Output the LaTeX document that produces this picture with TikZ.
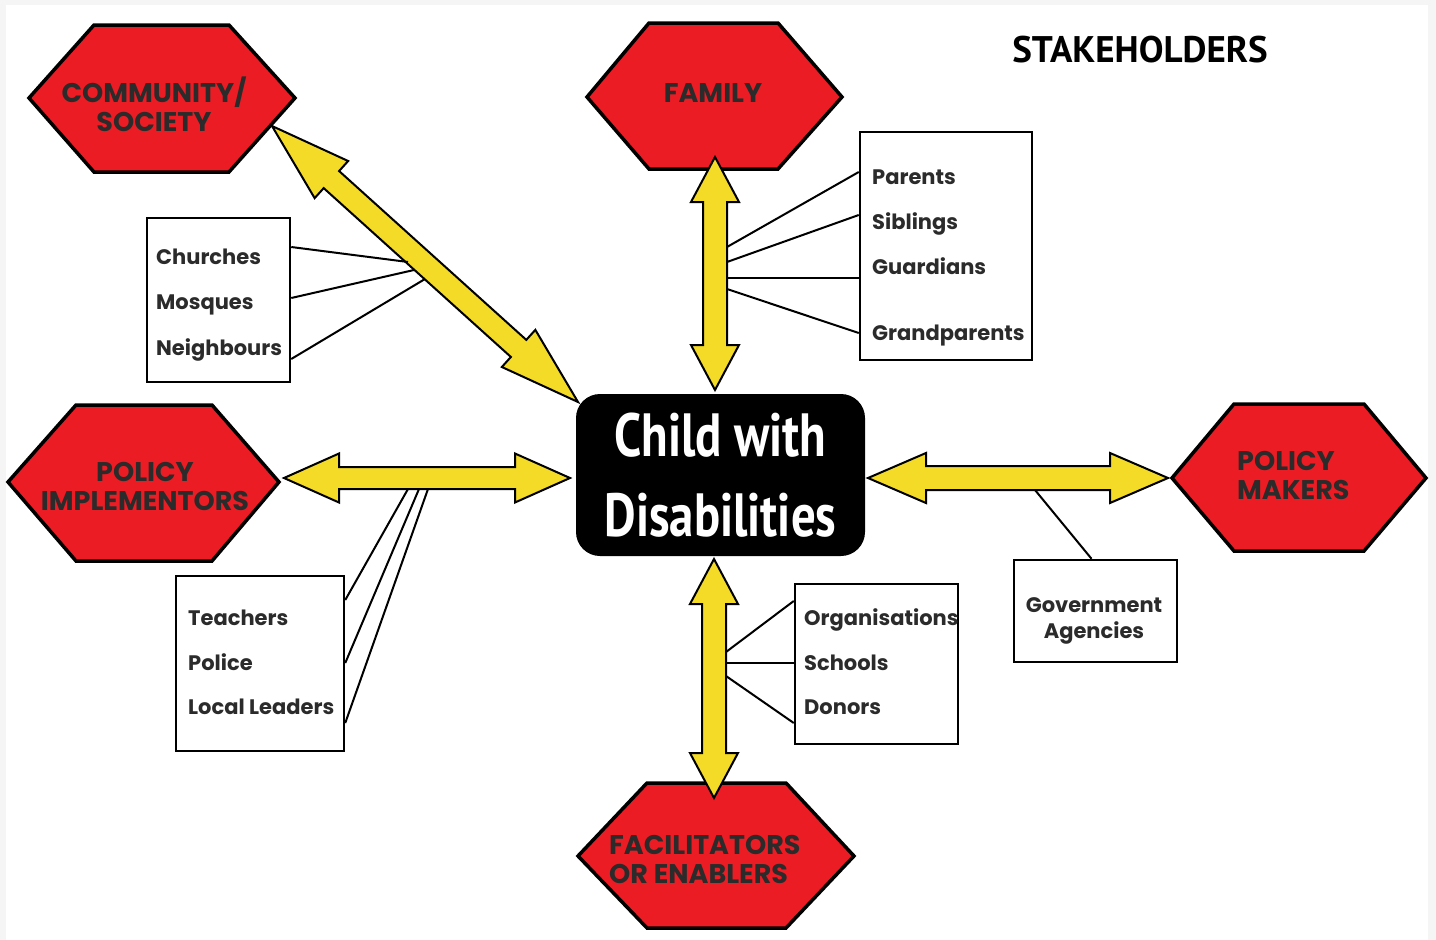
\documentclass[tikz,border=0pt]{standalone}
\usepackage{fontspec}
\setmainfont{Poppins}
\newfontfamily\comicfont{PT Sans}[FakeStretch=0.8]
\newfontfamily\titlefont{PT Sans}
\usepackage{tikz}
\usetikzlibrary{calc}
\definecolor{hexred}{HTML}{EC1C24}
\definecolor{arrowyellow}{HTML}{F4DB28}
\definecolor{labelgray}{HTML}{2B2B2B}
\definecolor{pagegray}{HTML}{F5F5F5}
\newcommand{\hexlabelfont}{\fontsize{27}{29}\selectfont\bfseries}
\newcommand{\itemfont}{\fontsize{21}{26}\selectfont\bfseries}
\tikzset{
  hexagon/.style={draw=black, line width=3.5pt, fill=hexred, line join=miter},
  hexlabel/.style={text=labelgray, font=\hexlabelfont, align=center, inner sep=0pt},
  itembox/.style={draw=black, line width=2.5pt, fill=white, inner sep=0pt},
  itemtext/.style={text=labelgray, font=\itemfont, anchor=base west, inner sep=0pt},
  link/.style={draw=black, line width=2pt},
  arrowbody/.style={draw=black, line width=2pt, fill=arrowyellow, line join=miter},
  childbox/.style={fill=black, rounded corners=24pt, text=white, align=center,
    font=\comicfont\bfseries\fontsize{61}{80}\selectfont, inner sep=0pt},
}
%% double headed block arrow between two tips
\newcommand\biarrow[5]{% tip, tip, shaft half, head half, head length
  \coordinate (ha) at ($(#1)!#5!(#2)$);
  \coordinate (hb) at ($(#2)!#5!(#1)$);
  \draw[arrowbody] (#1)
    -- ($(ha)!#4!90:(#2)$) -- ($(ha)!#3!90:(#2)$)
    -- ($(hb)!#3!-90:(#1)$) -- ($(hb)!#4!-90:(#1)$)
    -- (#2)
    -- ($(hb)!#4!90:(#1)$) -- ($(hb)!#3!90:(#1)$)
    -- ($(ha)!#3!-90:(#2)$) -- ($(ha)!#4!-90:(#2)$)
    -- cycle;
}
\begin{document}
\begin{tikzpicture}[x=1pt, y=-1pt]

  \useasboundingbox (0,0) rectangle (1436,940);
  \fill[pagegray] (0,0) rectangle (1436,940);
  \fill[white] (6,5) rectangle (1428,940);

  %% title
  \node[font=\titlefont\bfseries\fontsize{37}{40}\selectfont, inner sep=0pt]
    (title) at (1140,50) {STAKEHOLDERS};

  %% hexagons
  \draw[hexagon] (29,98) -- (94,25) -- (229,25) -- (295,98) -- (229,172) -- (94,172) -- cycle;
  \node[hexlabel] (community) at (154,104) {COMMUNITY/\\SOCIETY};

  \draw[hexagon] (587,97) -- (649,23) -- (778,23) -- (842,97) -- (778,169) -- (649,169) -- cycle;
  \node[hexlabel] (family) at (713,93) {FAMILY};

  \draw[hexagon] (8,482) -- (76,405) -- (212,405) -- (279,482) -- (212,561) -- (76,561) -- cycle;
  \node[hexlabel] (implementors) at (145,486) {POLICY\\IMPLEMENTORS};

  \draw[hexagon] (1172,478) -- (1234,404) -- (1364,404) -- (1426,478) -- (1364,551) -- (1234,551) -- cycle;
  \node[hexlabel, align=left, anchor=west] (makers) at (1237,475) {POLICY\\MAKERS};

  \draw[hexagon] (578,856) -- (647,783) -- (786,783) -- (854,856) -- (786,928) -- (647,928) -- cycle;
  \node[hexlabel, align=left, anchor=west] (enablers) at (609,859) {FACILITATORS\\OR ENABLERS};

  %% centre
  \node[childbox, minimum width=289pt, minimum height=162pt] (child) at (720.5,475)
    {Child with\\Disabilities};

  %% arrow tips
  \coordinate (comtip) at (272,126);  \coordinate (ccom) at (578,402);
  \coordinate (famtip) at (715,157);  \coordinate (cfam) at (715,390);
  \coordinate (imptip) at (284,478);  \coordinate (cimp) at (570,478);
  \coordinate (maktip) at (1168,478); \coordinate (cmak) at (868,478);
  \coordinate (enatip) at (714,798);  \coordinate (cena) at (714,559);

  \biarrow{comtip}{ccom}{11.5pt}{25pt}{80pt}
  \biarrow{famtip}{cfam}{12pt}{24pt}{45pt}
  \biarrow{imptip}{cimp}{11pt}{24.5pt}{55pt}
  \biarrow{cmak}{maktip}{12pt}{25pt}{58pt}
  \biarrow{cena}{enatip}{12pt}{24pt}{45pt}

  %% lists
  \node[itembox, minimum width=143pt, minimum height=164pt] (comlist) at (218.5,300) {};
  \node[itemtext] (churches) at (156,264) {Churches};
  \node[itemtext] (mosques) at (156,309) {Mosques};
  \node[itemtext] (neighbours) at (156,355) {Neighbours};

  \node[itembox, minimum width=172pt, minimum height=228pt] (famlist) at (946,246) {};
  \node[itemtext] (parents) at (872,184) {Parents};
  \node[itemtext] (siblings) at (872,229) {Siblings};
  \node[itemtext] (guardians) at (872,274) {Guardians};
  \node[itemtext] (grandparents) at (872,340) {Grandparents};

  \node[itembox, minimum width=168pt, minimum height=175pt] (implist) at (260,663.5) {};
  \node[itemtext] (teachers) at (188,625) {Teachers};
  \node[itemtext] (police) at (188,670) {Police};
  \node[itemtext] (leaders) at (188,714) {Local Leaders};

  \node[itembox, minimum width=163pt, minimum height=160pt] (enalist) at (876.5,664) {};
  \node[itemtext] (organisations) at (804,625) {Organisations};
  \node[itemtext] (schools) at (804,670) {Schools};
  \node[itemtext] (donors) at (804,714) {Donors};

  \node[itembox, minimum width=163pt, minimum height=102pt] (govlist) at (1095.5,611) {};
  \node[text=labelgray, font=\itemfont, align=center, inner sep=0pt] (agencies)
    at (1094,621) {Government\\Agencies};

  %% links
  \draw[link] ([yshift=17pt]churches.base -| comlist.east) -- (408,262);
  \draw[link] ([yshift=11pt]mosques.base -| comlist.east) -- (414,270);
  \draw[link] ([yshift=-4pt]neighbours.base -| comlist.east) -- (425,279);

  \draw[link] ([yshift=12pt]parents.base -| famlist.west) -- (727,247);
  \draw[link] ([yshift=14pt]siblings.base -| famlist.west) -- (727,262);
  \draw[link] ([yshift=-4pt]guardians.base -| famlist.west) -- (727,278);
  \draw[link] ([yshift=7pt]grandparents.base -| famlist.west) -- (727,289);

  \draw[link] ([yshift=25pt]teachers.base -| implist.east) -- (408,489);
  \draw[link] ([yshift=7pt]police.base -| implist.east) -- (419,489);
  \draw[link] ([yshift=-9pt]leaders.base -| implist.east) -- (428,489);

  \draw[link] ([yshift=24pt]organisations.base -| enalist.west) -- (726,652);
  \draw[link] ([yshift=7pt]schools.base -| enalist.west) -- (726,663);
  \draw[link] ([yshift=-9pt]donors.base -| enalist.west) -- (726,676);

  \draw[link] (govlist.north) ++(-4,0) -- (1035,490);

\end{tikzpicture}
\end{document}
